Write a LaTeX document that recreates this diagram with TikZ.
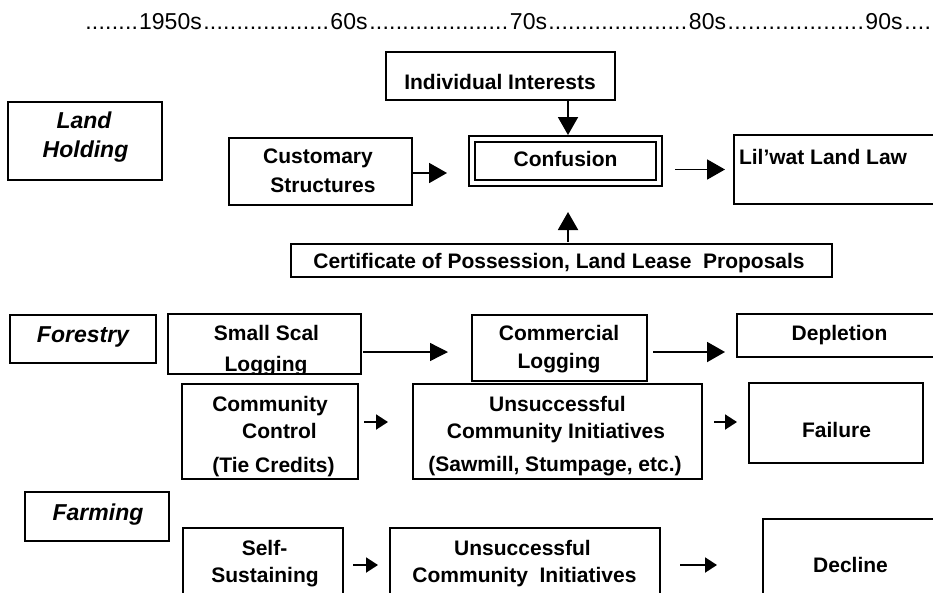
\documentclass[tikz,border=0pt]{standalone}
\usepackage{fontspec}
\setmainfont{Liberation Sans}
\usetikzlibrary{arrows.meta,fit}
\newcommand\dotrun[1]{\hbox to #1{\xleaders\hbox to 6.6pt{\hss.\hss}\hfill}}
\tikzset{
  bx/.style={draw=black, line width=1.9pt, rectangle, inner sep=0pt, outer sep=0pt},
  bxthin/.style={bx, line width=1.4pt},
  dbl/.style={bx, double, double distance=3.8pt},
  tx/.style={font=\fontsize{21}{26}\selectfont\bfseries, anchor=base, inner sep=0pt},
  itx/.style={font=\fontsize{23}{28}\selectfont\bfseries\itshape, anchor=base, inner sep=0pt},
  tl/.style={font=\fontsize{23}{28}\selectfont, anchor=base, inner sep=0pt},
  tld/.style={tl, anchor=base west},
  arr/.style={line width=1.9pt, -{Triangle[length=18pt,width=20pt]}},
  arrthin/.style={line width=1.3pt, -{Triangle[length=18pt,width=18pt]}},
  arrsm/.style={line width=1.9pt, -{Triangle[length=12pt,width=15pt]}},
}
\begin{document}
\begin{tikzpicture}[x=1pt,y=-1pt]
\clip (0,0) rectangle (933,592);
\fill[white] (0,0) rectangle (933,592);

% timeline
\node[tld] (d0) at (85,29) {\dotrun{53pt}};
\node[tl] (t50) at (170.5,29) {1950s};
\node[tld] (d1) at (203,29) {\dotrun{126pt}};
\node[tl] (t60) at (349,29) {60s};
\node[tld] (d2) at (369,29) {\dotrun{139pt}};
\node[tl] (t70) at (528.5,29) {70s};
\node[tld] (d3) at (548,29) {\dotrun{139pt}};
\node[tl] (t80) at (707.5,29) {80s};
\node[tld] (d4) at (727,29) {\dotrun{137pt}};
\node[tl] (t90) at (884,29) {90s};
\node[tld] (d5) at (904,29) {\dotrun{27pt}};

% boxes
\node[bx, fit={(8,102) (162,180)}] (lh) {};
\node[bx, fit={(229,138) (412,205)}] (cust) {};
\node[bxthin, fit={(386,52) (615,100)}] (ii) {};
\node[dbl, fit={(472,139) (659,183)}] (conf) {};
\node[bx, fit={(734,135) (945,204)}] (lil) {};
\node[bxthin, fit={(291,244) (832,277)}] (cert) {};
\node[bx, fit={(10,315) (156,363)}] (for) {};
\node[bx, fit={(168,314) (361,374)}] (ssl) {};
\node[bx, fit={(472,315) (647,381)}] (cl) {};
\node[bx, fit={(737,314) (945,357)}] (dep) {};
\node[bx, fit={(182,384) (358,479)}] (cc) {};
\node[bx, fit={(413,384) (702,479)}] (uci) {};
\node[bx, fit={(749,383) (923,463)}] (fail) {};
\node[bx, fit={(25,492) (169,541)}] (farm) {};
\node[bx, fit={(183,528) (343,600)}] (ss) {};
\node[bx, fit={(390,528) (660,600)}] (uci2) {};
\node[bx, fit={(763,519) (945,600)}] (decl) {};

% texts
\node[itx] (lh1) at (84,128) {Land};
\node[itx] (lh2) at (85.5,157) {Holding};
\node[tx] (cu1) at (318,163) {Customary};
\node[tx] (cu2) at (323,192) {Structures};
\node[tx] (ii1) at (500,89) {Individual Interests};
\node[tx] (cf1) at (565.5,166) {Confusion};
\node[tx] (ll1) at (823,164) {Lil’wat Land Law};
\node[tx] (ce1) at (559,268) {Certificate of Possession, Land Lease\ \ Proposals};
\node[itx] (fo1) at (83,342) {Forestry};
\node[tx] (ss1) at (266.5,340) {Small Scal};
\begin{scope}
  \clip (ssl.north west) rectangle ([yshift=1pt]ssl.south east);
  \node[tx] (ss2) at (266,371) {Logging};
\end{scope}
\node[tx] (co1) at (559,340) {Commercial};
\node[tx] (co2) at (559,368) {Logging};
\node[tx] (de1) at (839.5,340) {Depletion};
\node[tx] (cc1) at (270,411) {Community};
\node[tx] (cc2) at (279.5,438) {Control};
\node[tx] (cc3) at (273.5,472) {(Tie Credits)};
\node[tx] (uc1) at (557.5,411) {Unsuccessful};
\node[tx] (uc2) at (556,438) {Community Initiatives};
\node[tx] (uc3) at (555,471) {(Sawmill, Stumpage, etc.)};
\node[tx] (fa1) at (836.5,437) {Failure};
\node[itx] (fm1) at (98,520) {Farming};
\node[tx] (sf1) at (264.5,555) {Self-};
\node[tx] (sf2) at (265,582) {Sustaining};
\node[tx] (un1) at (522.5,555) {Unsuccessful};
\node[tx] (un2) at (524.5,582) {Community\ \ Initiatives};
\node[tx] (dc1) at (850.5,572) {Decline};

% arrows
\draw[arr, shorten >=25pt] ([yshift=-1.5pt]cust.east) -- ([yshift=-1.5pt]cust.east -| conf.west);
\draw[arr, shorten >=4pt] ([xshift=2.5pt]conf.north |- ii.south) -- ([xshift=2.5pt]conf.north);
\draw[arr, shorten <=16pt, shorten >=9pt] (conf.east |- lil.west) -- (lil.west);
\draw[arr, shorten <=2pt, shorten >=29pt] ([xshift=2.5pt]conf.south |- cert.north) -- ([xshift=2.5pt]conf.south);
\draw[arrthin, shorten <=2pt, shorten >=24pt] ([yshift=-8pt]ssl.east) -- ([yshift=-8pt]ssl.east -| cl.west);
\draw[arr, shorten <=6pt, shorten >=12pt] ([yshift=-4pt]cl.east) -- ([yshift=-4pt]cl.east -| dep.west);
\draw[arrsm, shorten <=6pt, shorten >=25pt] ([yshift=9.5pt]cc.east) -- ([yshift=9.5pt]cc.east -| uci.west);
\draw[arrsm, shorten <=12pt, shorten >=12pt] ([yshift=9.5pt]uci.east) -- ([yshift=9.5pt]uci.east -| fail.west);
\draw[arrsm, shorten <=10pt, shorten >=12pt] ([yshift=-1pt]ss.east) -- ([yshift=-1pt]ss.east -| uci2.west);
\draw[arrsm, shorten <=20pt, shorten >=46pt] ([yshift=-1pt]uci2.east) -- ([yshift=-1pt]uci2.east -| decl.west);
\end{tikzpicture}
\end{document}
